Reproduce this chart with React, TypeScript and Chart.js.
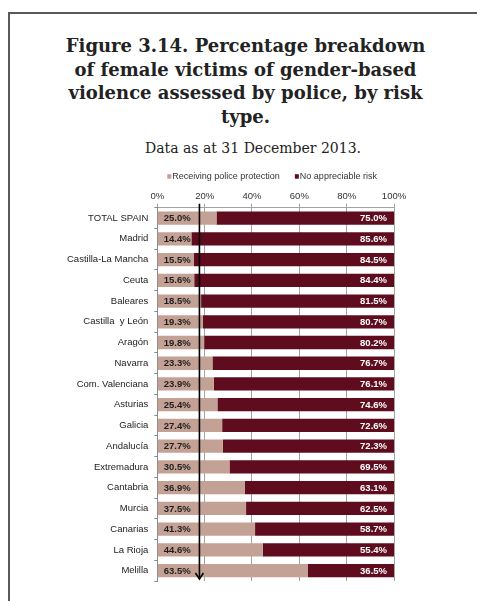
import React, { useEffect, useRef } from "react";
import { Chart, registerables } from "chart.js";

Chart.register(...registerables);

const TITLE_LINES = [
  "Figure 3.14. Percentage breakdown",
  "of female victims of gender-based",
  "violence assessed by police, by risk",
  "type.",
];
const SUBTITLE = "Data as at 31 December 2013.";
const REGIONS = [
  "TOTAL SPAIN",
  "Madrid",
  "Castilla-La Mancha",
  "Ceuta",
  "Baleares",
  "Castilla  y León",
  "Aragón",
  "Navarra",
  "Com. Valenciana",
  "Asturias",
  "Galicia",
  "Andalucía",
  "Extremadura",
  "Cantabria",
  "Murcia",
  "Canarias",
  "La Rioja",
  "Melilla",
];
const PROTECTION = [25.0, 14.4, 15.5, 15.6, 18.5, 19.3, 19.8, 23.3, 23.9, 25.4, 27.4, 27.7, 30.5, 36.9, 37.5, 41.3, 44.6, 63.5];
const NO_RISK = [75.0, 85.6, 84.5, 84.4, 81.5, 80.7, 80.2, 76.7, 76.1, 74.6, 72.6, 72.3, 69.5, 63.1, 62.5, 58.7, 55.4, 36.5];
const SERIES_NAMES = ["Receiving police protection", "No appreciable risk"];
const X_TICKS = [0, 20, 40, 60, 80, 100];
const ARROW_AT = 17.8;

const LIGHT = "#c4a195";
const DARK = "#5e0c1e";
const SANS = "'Liberation Sans', Arial, sans-serif";

const labelsPlugin = {
  id: "barLabels",
  afterDatasetsDraw(chart: any) {
    const ctx = chart.ctx;
    ctx.save();
    ctx.font = `bold 9.5px ${SANS}`;
    ctx.textBaseline = "middle";
    const m0 = chart.getDatasetMeta(0);
    m0.data.forEach((el: any, i: number) => {
      ctx.fillStyle = "#1e1e1e";
      ctx.textAlign = "left";
      ctx.fillText(PROTECTION[i].toFixed(1) + "%", el.base + 6, el.y + 0.5);
    });
    const m1 = chart.getDatasetMeta(1);
    m1.data.forEach((el: any, i: number) => {
      ctx.fillStyle = "#ffffff";
      ctx.textAlign = "right";
      ctx.fillText(NO_RISK[i].toFixed(1) + "%", el.x - 7, el.y + 0.5);
    });
    ctx.restore();
  },
};

const arrowPlugin = {
  id: "arrowLine",
  afterDraw(chart: any) {
    const ctx = chart.ctx;
    const area = chart.chartArea;
    const x = chart.scales.x.getPixelForValue(ARROW_AT);
    const top = area.top - 4;
    const tip = area.bottom - 2;
    ctx.save();
    ctx.strokeStyle = "#000";
    ctx.lineWidth = 1.6;
    ctx.beginPath();
    ctx.moveTo(x, top);
    ctx.lineTo(x, tip);
    ctx.stroke();
    ctx.beginPath();
    ctx.moveTo(x - 4, tip - 6);
    ctx.lineTo(x, tip);
    ctx.lineTo(x + 4, tip - 6);
    ctx.stroke();
    ctx.restore();
  },
};

const legendPlugin = {
  id: "customLegend",
  afterDraw(chart: any) {
    const ctx = chart.ctx;
    const area = chart.chartArea;
    const y = area.top - 31;
    let x = area.left + 10;
    ctx.save();
    ctx.font = `9px ${SANS}`;
    ctx.textBaseline = "middle";
    ctx.textAlign = "left";
    chart.data.datasets.forEach((ds: any) => {
      ctx.fillStyle = ds.backgroundColor;
      ctx.fillRect(x, y - 2.5, 4, 4.5);
      x += 5;
      ctx.fillStyle = "#333";
      ctx.fillText(ds.label, x, y);
      x += ctx.measureText(ds.label).width + 15;
    });
    ctx.restore();
  },
};

export default function App() {
  const ref = useRef<HTMLCanvasElement>(null);
  useEffect(() => {
    if (!ref.current) return;
    const chart = new Chart(ref.current, {
      type: "bar",
      data: {
        labels: REGIONS,
        datasets: [
          {
            label: SERIES_NAMES[0],
            data: PROTECTION,
            backgroundColor: LIGHT,
            borderWidth: 0,
            barPercentage: 0.64,
            categoryPercentage: 1,
          },
          {
            label: SERIES_NAMES[1],
            data: NO_RISK,
            backgroundColor: DARK,
            borderWidth: 0,
            barPercentage: 0.64,
            categoryPercentage: 1,
          },
        ],
      },
      options: {
        indexAxis: "y",
        responsive: false,
        animation: false,
        devicePixelRatio: 1,
        layout: { padding: { top: 27.7, right: 83, bottom: 20, left: 0 } },
        plugins: {
          legend: { display: false },
          tooltip: { enabled: false },
          title: { display: false },
        },
        scales: {
          x: {
            position: "top",
            stacked: true,
            min: 0,
            max: 100,
            afterBuildTicks: (s: any) => {
              s.ticks = X_TICKS.map((v) => ({ value: v }));
            },
            afterFit: (s: any) => {
              s.height = 30;
            },
            ticks: {
              callback: (v: any) => v + "%",
              font: { family: SANS, size: 9.5 },
              color: "#333",
              padding: 2,
              maxRotation: 0,
            },
            grid: { color: "#a3a3a3", tickLength: 4, lineWidth: 1 },
            border: { color: "#a3a3a3" },
          },
          y: {
            stacked: true,
            afterFit: (s: any) => {
              s.width = 157.3;
            },
            ticks: {
              font: { family: SANS, size: 9.5 },
              color: "#222",
              padding: 6,
            },
            grid: { drawOnChartArea: false, tickLength: 3, color: "#8a8a8a" },
            border: { color: "#8a8a8a" },
          },
        },
      },
      plugins: [labelsPlugin, arrowPlugin, legendPlugin],
    } as any);
    return () => chart.destroy();
  }, []);

  return (
    <div
      style={{
        position: "fixed",
        left: 0,
        top: 0,
        width: 477,
        height: 601,
        background: "#fff",
        overflow: "hidden",
      }}
    >
      <div
        style={{
          position: "absolute",
          left: 8,
          top: 12,
          width: 520,
          height: 640,
          borderLeft: "2px solid #5a5a5a",
          borderTop: "2px solid #5a5a5a",
        }}
      />
      <div
        style={{
          position: "absolute",
          left: 0,
          top: 34,
          width: 491,
          textAlign: "center",
          fontFamily: "'DejaVu Serif', serif",
          fontWeight: "bold",
          fontSize: 18,
          lineHeight: "23.5px",
          color: "#222",
        }}
      >
        {TITLE_LINES.map((l, i) => (
          <div key={i} style={{ whiteSpace: "nowrap" }}>
            {l}
          </div>
        ))}
      </div>
      <div
        style={{
          position: "absolute",
          left: 0,
          top: 139,
          width: 506,
          textAlign: "center",
          fontFamily: "'DejaVu Serif', serif",
          fontSize: 14,
          lineHeight: "18px",
          color: "#222",
          whiteSpace: "nowrap",
        }}
      >
        {SUBTITLE}
      </div>
      <canvas
        ref={ref}
        width={477}
        height={451}
        style={{ position: "absolute", left: 0, top: 150, width: 477, height: 451 }}
      />
    </div>
  );
}
